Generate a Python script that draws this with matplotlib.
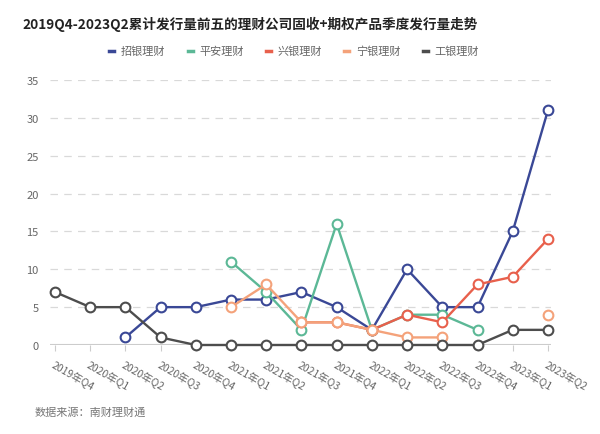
import numpy as np
import matplotlib
matplotlib.use("Agg")
import matplotlib.pyplot as plt
from matplotlib.lines import Line2D

plt.rcParams['font.family'] = ['Noto Sans CJK SC', 'DejaVu Sans']

categories = ["2019年Q4", "2020年Q1", "2020年Q2", "2020年Q3", "2020年Q4",
              "2021年Q1", "2021年Q2", "2021年Q3", "2021年Q4", "2022年Q1",
              "2022年Q2", "2022年Q3", "2022年Q4", "2023年Q1", "2023年Q2"]
nan = np.nan
zhaoyin = [nan, nan, 1, 5, 5, 6, 6, 7, 5, 2, 10, 5, 5, 15, 31]
pingan = [nan, nan, nan, nan, nan, 11, 7, 2, 16, 2, 4, 4, 2, nan, nan]
xingyin = [nan, nan, nan, nan, nan, nan, nan, 3, 3, 2, 4, 3, 8, 9, 14]
ningyin = [nan, nan, nan, nan, nan, 5, 8, 3, 3, 2, 1, 1, nan, nan, 4]
gongyin = [7, 5, 5, 1, 0, 0, 0, 0, 0, 0, 0, 0, 0, 2, 2]
series_names = ["招银理财", "平安理财", "兴银理财", "宁银理财", "工银理财"]
yticks = [0, 5, 10, 15, 20, 25, 30, 35]

colors = ["#3a4896", "#5cb896", "#e8604c", "#f4a27a", "#4d4d4d"]
series = [zhaoyin, pingan, xingyin, ningyin, gongyin]

fig = plt.figure(figsize=(6, 4.35), dpi=100)
ax = fig.add_axes([0.0828, 0.2046, 0.8363, 0.6092])

x = np.arange(len(categories))
for i, (vals, c, name) in enumerate(zip(series, colors, series_names)):
    ax.plot(x, vals, color=c, lw=1.7, marker='o', markersize=7,
            markerfacecolor='white', markeredgecolor=c, markeredgewidth=1.5,
            zorder=3 + i, clip_on=False, label=name)

ax.set_xlim(-0.15, 14.1)
ax.set_ylim(0, 35)
ax.set_yticks(yticks)
ax.set_yticklabels([str(v) for v in yticks], color='#666666', fontsize=8)
for v in yticks[1:]:
    ax.axhline(v, color='#d9d9d9', lw=0.9, ls=(0, (6, 5)), zorder=1)
ax.axhline(0, color='#cccccc', lw=1.5, zorder=2)

ax.set_xticks(x)
ax.set_xticklabels(categories, rotation=-30, ha='left', va='top',
                   rotation_mode='anchor', color='#666666', fontsize=7.5)
ax.tick_params(axis='x', length=4, color='#cccccc', pad=6)
ax.tick_params(axis='y', length=0, pad=8)
for s in ax.spines.values():
    s.set_visible(False)

fig.text(0.037, 0.945, "2019Q4-2023Q2累计发行量前五的理财公司固收+期权产品季度发行量走势",
         fontsize=9.8, color='#222222', ha='left', va='center', fontweight='bold')

handles = [Line2D([0], [0], color=c, lw=2.5) for c in colors]
fig.legend(handles, series_names, loc='center', bbox_to_anchor=(0.49, 0.88),
           ncol=5, frameon=False, handlelength=0.45, handletextpad=0.6,
           columnspacing=2.0, fontsize=8, labelcolor='#666666')

fig.text(0.058, 0.052, "数据来源：南财理财通", fontsize=8, color='#777777',
         ha='left', va='center')

fig.savefig("out.png", dpi=100)
